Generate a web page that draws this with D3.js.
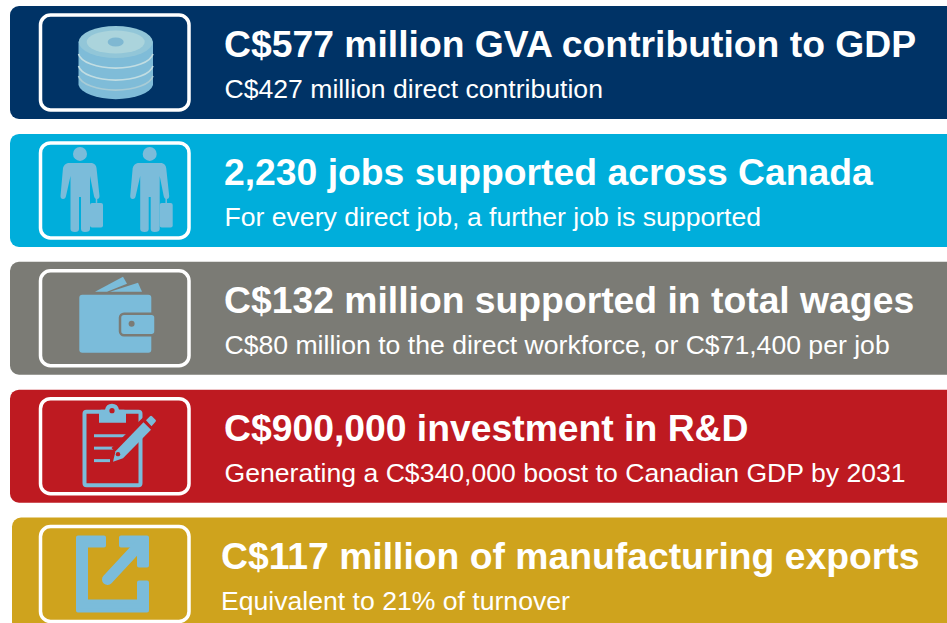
<!DOCTYPE html>
<html>
<head>
<title>Economic impact</title>
<style>
  html, body { margin: 0; padding: 0; background: #fff; }
  svg { display: block; }
  text { font-family: "Liberation Sans", Arial, sans-serif; fill: #fff; }
</style>
</head>
<body>
<div id="container"></div>
<script src="https://d3js.org/d3.v7.min.js"></script>
<script>
const titles = [
  "C$577 million GVA contribution to GDP",
  "2,230 jobs supported across Canada",
  "C$132 million supported in total wages",
  "C$900,000 investment in R&D",
  "C$117 million of manufacturing exports"
];
const subtitles = [
  "C$427 million direct contribution",
  "For every direct job, a further job is supported",
  "C$80 million to the direct workforce, or C$71,400 per job",
  "Generating a C$340,000 boost to Canadian GDP by 2031",
  "Equivalent to 21% of turnover"
];
const panelColors = ["#003366", "#00aedb", "#7b7b75", "#be1a21", "#cfa31d"];
const icons = ["coins", "people", "wallet", "clipboard", "export"];

const width = 947;
const height = 623;
const iconBlue = "#7bbcda";

const rowScale = d3.scaleLinear().domain([0, 4]).range([6, 517.5]);
const colorScale = d3.scaleOrdinal().domain(icons).range(panelColors);

const svg = d3.select("#container").append("svg")
    .attr("width", width)
    .attr("height", height);

const rows = svg.selectAll(".row")
    .data(icons)
  .enter().append("g")
    .attr("class", "row")
    .attr("transform", (d, i) => `translate(0, ${rowScale(i)})`);

rows.append("rect")
    .attr("x", (d, i) => i === 4 ? 12 : 10)
    .attr("y", 0)
    .attr("width", 960)
    .attr("height", 113)
    .attr("rx", 9)
    .attr("fill", d => colorScale(d));

rows.append("rect")
    .attr("x", 40.5)
    .attr("y", 9)
    .attr("width", 148.5)
    .attr("height", 95)
    .attr("rx", 10)
    .attr("fill", "none")
    .attr("stroke", "#fff")
    .attr("stroke-width", 3.5);

rows.append("text")
    .attr("x", (d, i) => i === 4 ? 221 : 224)
    .attr("y", 51)
    .attr("font-size", 37.3)
    .attr("font-weight", 700)
    .text((d, i) => titles[i]);

rows.append("text")
    .attr("x", (d, i) => i === 4 ? 221 : 224.5)
    .attr("y", 92)
    .attr("font-size", 26.6)
    .text((d, i) => subtitles[i]);

// icons, drawn in page coordinates relative to each row top
const drawIcon = {
  coins(g, bg) {
    g.append("path")
        .attr("d", "M78.5 36 A37.5 16 0 0 1 153 36 V79 A37.5 16 0 0 1 78.5 79 Z")
        .attr("fill", "#7fbcd8");
    g.append("ellipse").attr("cx", 115.7).attr("cy", 36).attr("rx", 37).attr("ry", 16)
        .attr("fill", "#92c6d8");
    g.append("ellipse").attr("cx", 115.7).attr("cy", 36).attr("rx", 29).attr("ry", 11.5)
        .attr("fill", "#abd4dc");
    g.append("ellipse").attr("cx", 115.7).attr("cy", 36).attr("rx", 8).attr("ry", 4.5)
        .attr("fill", "#7fb8d2");
    [48, 60, 70].forEach((dy, i) => {
      g.append("path")
          .attr("d", `M78.5 ${dy} A37.5 16 0 0 0 153 ${dy}`)
          .attr("fill", "none")
          .attr("stroke", i === 2 ? "#a9ccd6" : "#c2dde2")
          .attr("stroke-width", 1.6);
    });
  },
  people(g, bg) {
    [0, 69.7].forEach(dx => {
      const p = g.append("g").attr("transform", `translate(${dx}, -134)`);
      p.append("circle").attr("cx", 80).attr("cy", 154).attr("r", 7).attr("fill", iconBlue);
      p.append("path")
          .attr("d", "M68 163 H92 Q96 164 96.5 168 L99.5 196 Q99.5 199 97 199 Q94.5 199 94 196 L90 176 V229 Q90 232 85 232 Q81 232 81 229 V197 H79 V229 Q79 232 75 232 Q70.5 232 70.5 229 V176 L66 196 Q65.5 199 63 199 Q60.5 199 60.5 196 L63 168 Q64 164 68 163 Z")
          .attr("fill", iconBlue);
      p.append("rect").attr("x", 90).attr("y", 203).attr("width", 13).attr("height", 24.5).attr("rx", 2)
          .attr("fill", iconBlue);
      p.append("path").attr("d", "M96.5 203 V198").attr("stroke", iconBlue).attr("stroke-width", 1.5);
    });
  },
  wallet(g, bg) {
    const p = g.append("g").attr("transform", "translate(0, -262)");
    p.append("path").attr("d", "M95 292 L123 277 L127 284 L107 292 Z").attr("fill", iconBlue);
    p.append("path").attr("d", "M110 292 L138 283 L142 292 Z").attr("fill", iconBlue);
    p.append("rect").attr("x", 79.3).attr("y", 295).attr("width", 72).attr("height", 58).attr("rx", 3)
        .attr("fill", iconBlue);
    p.append("rect").attr("x", 120).attr("y", 314).attr("width", 35.5).attr("height", 21.5).attr("rx", 4)
        .attr("fill", iconBlue).attr("stroke", bg).attr("stroke-width", 2.5);
    p.append("circle").attr("cx", 131.6).attr("cy", 324).attr("r", 3).attr("fill", bg);
  },
  clipboard(g, bg) {
    const p = g.append("g").attr("transform", "translate(0, -389)");
    p.append("rect").attr("x", 84.5).attr("y", 411).attr("width", 56).attr("height", 73.5).attr("rx", 2)
        .attr("fill", "none").attr("stroke", iconBlue).attr("stroke-width", 4);
    p.append("path").attr("d", "M99 422 V411 Q99 409 101 409 H105 Q106 403 112 403 Q118 403 119 409 H124 Q126 409 126 411 V422 Z")
        .attr("fill", iconBlue);
    p.append("circle").attr("cx", 112).attr("cy", 410).attr("r", 2.6).attr("fill", bg);
    [[94, 127, 435], [94, 116, 447.5], [94, 110, 460]].forEach(l => {
      p.append("path").attr("d", `M${l[0]} ${l[2]} H${l[1]}`).attr("stroke", iconBlue).attr("stroke-width", 3);
    });
    p.append("path").attr("d", "M116 452 L148 421").attr("stroke", bg).attr("stroke-width", 13);
    p.append("path").attr("d", "M113 461 L115.5 450.5 L143.5 421.5 L151 429 L123 457.5 Z")
        .attr("fill", iconBlue);
    p.append("path").attr("d", "M146 419.5 L150 415.5 Q151 414.5 152 415.5 L155.5 419 Q156.5 420 155.5 421 L151.5 425.5 Z")
        .attr("fill", iconBlue);
    p.append("circle").attr("cx", 118).attr("cy", 453.5).attr("r", 2.2).attr("fill", bg);
  },
  export(g, bg) {
    const p = g.append("g").attr("transform", "translate(0, -518)")
        .attr("fill", iconBlue).attr("stroke", iconBlue).attr("stroke-width", 4)
        .attr("stroke-linejoin", "round");
    p.append("path").attr("d", "M78 538 H104 V546 H86 V602 H139 V583 H147 V611 H78 Z");
    p.append("path").attr("d", "M121 538 H147 V566 H139 V546 H121 Z");
    p.append("path").attr("d", "M140 545 L107.5 580").attr("fill", "none")
        .attr("stroke-width", 11).attr("stroke-linecap", "round");
  }
};

rows.each(function(d) {
  drawIcon[d](d3.select(this).append("g"), colorScale(d));
});
</script>
</body>
</html>
